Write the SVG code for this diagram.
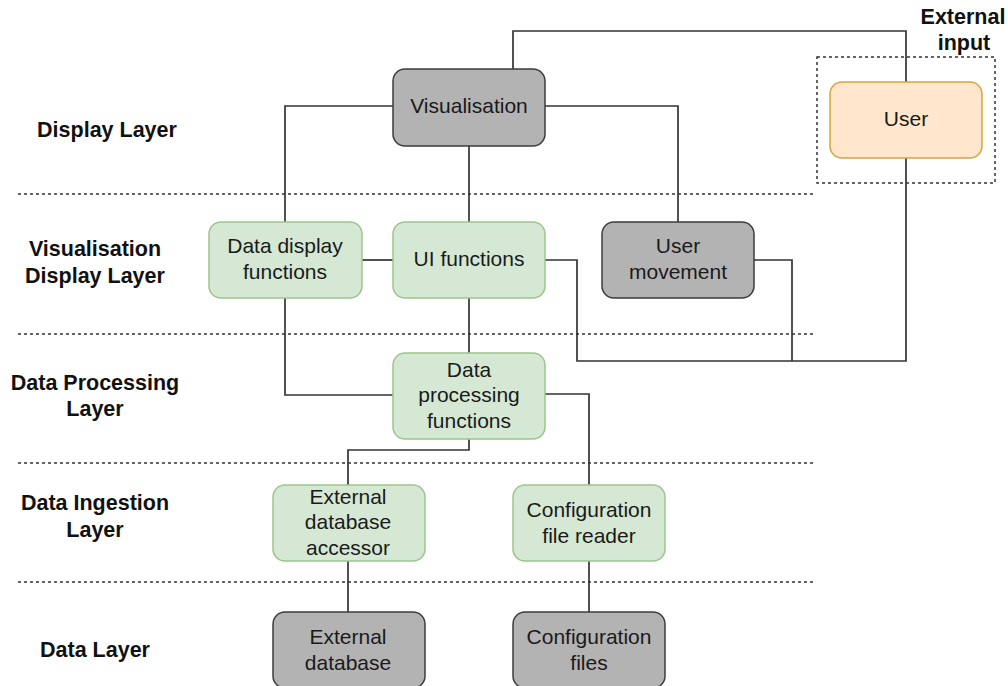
<svg xmlns="http://www.w3.org/2000/svg" width="1008" height="686" viewBox="0 0 1008 686">
  <style>
    .node text { font-family: "Liberation Sans", Arial, sans-serif; font-size: 21px; fill: #1a1a1a; text-anchor: middle; }
    .grey rect { fill: #b3b3b3; stroke: #3c3c3c; stroke-width: 1.5; }
    .green rect { fill: #d5e8d4; stroke: #9cc58a; stroke-width: 1.5; }
    .orange rect { fill: #ffe6cc; stroke: #d9a43a; stroke-width: 1.5; }
    .layer { font-family: "Liberation Sans", Arial, sans-serif; font-size: 21.5px; font-weight: bold; fill: #111; text-anchor: middle; }
    .divider { stroke: #333; stroke-width: 1.5; stroke-dasharray: 3 3; fill: none; }
    #connectors path { stroke: #333; stroke-width: 1.7; fill: none; }
  </style>
  <rect width="1008" height="686" fill="#ffffff"/>

  <!-- layer dividers -->
  <g id="dividers">
    <line class="divider" x1="18" y1="194" x2="815" y2="194"/>
    <line class="divider" x1="18" y1="334" x2="815" y2="334"/>
    <line class="divider" x1="18" y1="463" x2="815" y2="463"/>
    <line class="divider" x1="18" y1="582" x2="815" y2="582"/>
  </g>

  <!-- layer labels -->
  <g id="layer-labels">
    <text class="layer" x="107" y="137">Display Layer</text>
    <text class="layer" x="95" y="256">Visualisation</text>
    <text class="layer" x="95" y="283">Display Layer</text>
    <text class="layer" x="95" y="390">Data Processing</text>
    <text class="layer" x="95" y="416">Layer</text>
    <text class="layer" x="95" y="510">Data Ingestion</text>
    <text class="layer" x="95" y="537">Layer</text>
    <text class="layer" x="95" y="657">Data Layer</text>
  </g>

  <!-- external input boundary -->
  <g id="external-input">
    <rect x="817" y="57" width="178" height="126" class="divider"/>
    <text class="layer" x="963" y="24">External</text>
    <text class="layer" x="964" y="50">input</text>
  </g>

  <!-- connectors -->
  <g id="connectors">
    <path d="M513 69 V31 H906 V82"/>
    <path d="M393 106 H285 V222"/>
    <path d="M545 106 H678 V222"/>
    <path d="M469 146 V222"/>
    <path d="M362 260 H393"/>
    <path d="M469 298 V353"/>
    <path d="M285 298 V395 H393"/>
    <path d="M545 260 H577 V361 H906 V158"/>
    <path d="M754 260 H792 V361"/>
    <path d="M545 394 H589 V485"/>
    <path d="M469 439 V450 H348 V485"/>
    <path d="M348 561 V612"/>
    <path d="M589 561 V612"/>
  </g>

  <!-- nodes -->
  <g id="visualisation" class="node grey">
    <rect x="393" y="69" width="152" height="77" rx="12"/>
    <text x="469" y="113">Visualisation</text>
  </g>
  <g id="user" class="node orange">
    <rect x="830" y="82" width="152" height="76" rx="12"/>
    <text x="906" y="126">User</text>
  </g>
  <g id="data-display-functions" class="node green">
    <rect x="209" y="222" width="153" height="76" rx="12"/>
    <text x="285" y="253">Data display</text>
    <text x="285" y="279">functions</text>
  </g>
  <g id="ui-functions" class="node green">
    <rect x="393" y="222" width="152" height="76" rx="12"/>
    <text x="469" y="266">UI functions</text>
  </g>
  <g id="user-movement" class="node grey">
    <rect x="602" y="222" width="152" height="76" rx="12"/>
    <text x="678" y="253">User</text>
    <text x="678" y="279">movement</text>
  </g>
  <g id="data-processing-functions" class="node green">
    <rect x="393" y="353" width="152" height="86" rx="12"/>
    <text x="469" y="377">Data</text>
    <text x="469" y="402">processing</text>
    <text x="469" y="428">functions</text>
  </g>
  <g id="external-database-accessor" class="node green">
    <rect x="273" y="485" width="152" height="76" rx="12"/>
    <text x="348" y="504">External</text>
    <text x="348" y="529">database</text>
    <text x="348" y="555">accessor</text>
  </g>
  <g id="configuration-file-reader" class="node green">
    <rect x="513" y="485" width="152" height="76" rx="12"/>
    <text x="589" y="517">Configuration</text>
    <text x="589" y="543">file reader</text>
  </g>
  <g id="external-database" class="node grey">
    <rect x="273" y="612" width="152" height="76" rx="12"/>
    <text x="348" y="644">External</text>
    <text x="348" y="670">database</text>
  </g>
  <g id="configuration-files" class="node grey">
    <rect x="513" y="612" width="152" height="76" rx="12"/>
    <text x="589" y="644">Configuration</text>
    <text x="589" y="670">files</text>
  </g>
</svg>
